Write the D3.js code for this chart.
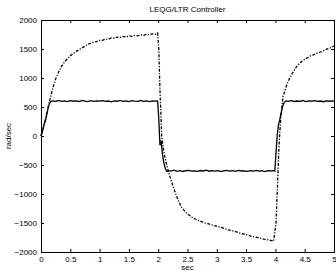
<!DOCTYPE html>
<html>
<head>
<meta charset="utf-8">
<script src="https://cdn.jsdelivr.net/npm/d3@7"></script>
<style>
  body { margin: 0; background: #fff; }
  svg { display: block; }
  text { font-family: "Liberation Sans", Arial, sans-serif; fill: #000; }
</style>
</head>
<body>
<svg width="336" height="272"></svg>
<script>
// rate response of the LEQG/LTR loop
var title = "LEQG/LTR Controller";
var xTicks = [0, 0.5, 1, 1.5, 2, 2.5, 3, 3.5, 4, 4.5, 5];
var yTicks = [-2000, -1500, -1000, -500, 0, 500, 1000, 1500, 2000];

// solid trace (time, rad/sec)
var solidT = [0, 0.02, 0.05, 0.08, 0.1, 0.13, 0.16, 0.2, 0.25, 0.3, 0.35, 0.4, 0.45, 0.5, 0.55, 0.6, 0.65, 0.7, 0.75, 0.8, 0.85, 0.9, 0.95, 1.0,
  1.05, 1.1, 1.15, 1.2, 1.25, 1.3, 1.35, 1.4, 1.45, 1.5, 1.55, 1.6, 1.65, 1.7, 1.75, 1.8, 1.85, 1.9, 1.95, 1.99,
  2.01, 2.03, 2.05, 2.07, 2.09, 2.12, 2.15, 2.18, 2.22, 2.27, 2.32, 2.37, 2.42, 2.47, 2.52, 2.57, 2.62, 2.67, 2.72, 2.77, 2.82, 2.87, 2.92, 2.97,
  3.02, 3.07, 3.12, 3.17, 3.22, 3.27, 3.32, 3.37, 3.42, 3.47, 3.52, 3.57, 3.62, 3.67, 3.72, 3.77, 3.82, 3.87, 3.92, 3.97, 3.99,
  4.01, 4.03, 4.05, 4.07, 4.09, 4.12, 4.15, 4.18, 4.22, 4.27, 4.32, 4.37, 4.42, 4.47, 4.52, 4.57, 4.62, 4.67, 4.72, 4.77, 4.82, 4.87, 4.92, 4.97, 5.0];
var solidV = [0, 60, 190, 280, 380, 520, 590, 606, 598, 612, 596, 604, 592, 610, 599, 607, 595, 613, 601, 594, 608, 597, 605, 600,
  611, 596, 603, 590, 606, 599, 614, 597, 604, 593, 609, 600, 596, 612, 598, 605, 594, 607, 601, 603,
  300, -160, -80, -300, -430, -560, -615, -596, -604, -590, -608, -597, -612, -599, -593, -606, -601, -611, -595, -603, -590, -607, -598, -605,
  -596, -612, -600, -594, -606, -598, -609, -592, -603, -600, -611, -596, -604, -593, -607, -599, -613, -597, -602, -598, -604,
  -300, 0, 180, 260, 360, 500, 580, 606, 597, 610, 595, 603, 598, 612, 594, 605, 600, 609, 596, 603, 591, 607, 599, 604, 601];

// dash-dot trace (time, rad/sec)
var dashT = [0, 0.05, 0.1, 0.15, 0.2, 0.25, 0.3, 0.35, 0.4, 0.45, 0.5, 0.55, 0.6, 0.65, 0.7, 0.75, 0.8, 0.85, 0.9, 0.95, 1.0,
  1.05, 1.1, 1.15, 1.2, 1.25, 1.3, 1.35, 1.4, 1.45, 1.5, 1.55, 1.6, 1.65, 1.7, 1.75, 1.8, 1.85, 1.9, 1.95, 1.99,
  2.01, 2.03, 2.06, 2.1, 2.15, 2.2, 2.25, 2.3, 2.35, 2.4, 2.45, 2.5, 2.55, 2.6, 2.65, 2.7, 2.75, 2.8, 2.85, 2.9, 2.95, 3.0,
  3.1, 3.2, 3.3, 3.4, 3.5, 3.6, 3.7, 3.8, 3.9, 3.97,
  4.01, 4.03, 4.06, 4.09, 4.13, 4.2, 4.25, 4.3, 4.35, 4.4, 4.45, 4.5, 4.55, 4.6, 4.65, 4.7, 4.75, 4.8, 4.85, 4.9, 4.95, 5.0];
var dashV = [0, 180, 400, 620, 820, 985, 1100, 1200, 1275, 1330, 1385, 1420, 1460, 1490, 1520, 1548, 1582, 1596, 1622, 1628, 1648,
  1651, 1672, 1668, 1690, 1684, 1705, 1698, 1716, 1708, 1726, 1719, 1735, 1728, 1745, 1737, 1752, 1746, 1762, 1755, 1775,
  1500, 800, 0, -300, -520, -700, -860, -1000, -1130, -1230, -1290, -1345, -1380, -1418, -1440, -1462, -1480, -1500, -1512, -1530, -1542, -1556,
  -1585, -1618, -1642, -1675, -1700, -1732, -1750, -1778, -1795, -1812,
  -1500, -1000, -200, 300, 680, 900, 1010, 1100, 1180, 1240, 1285, 1322, 1350, 1382, 1400, 1425, 1440, 1460, 1485, 1505, 1525, 1552];

var margin = {top: 20, right: 2, bottom: 20, left: 41};
var width = 336 - margin.left - margin.right;
var height = 272 - margin.top - margin.bottom;

var svg = d3.select("svg");
var g = svg.append("g").attr("transform", "translate(" + margin.left + "," + margin.top + ")");

var x = d3.scaleLinear().domain([0, 5]).range([0, width]);
var y = d3.scaleLinear().domain([-2000, 2000]).range([height, 0]);

var fmt = function (d) { return d < 0 ? "\u2212" + Math.abs(d) : String(d); };

// axes with inward ticks on all four sides
g.append("g").attr("transform", "translate(0," + height + ")")
  .call(d3.axisBottom(x).tickValues(xTicks).tickSize(-3).tickPadding(4).tickFormat(fmt));
g.append("g").attr("transform", "translate(0,0)")
  .call(d3.axisTop(x).tickValues(xTicks).tickSize(-3).tickFormat(""));
g.append("g")
  .call(d3.axisLeft(y).tickValues(yTicks).tickSize(-3).tickPadding(4).tickFormat(fmt));
g.append("g").attr("transform", "translate(" + width + ",0)")
  .call(d3.axisRight(y).tickValues(yTicks).tickSize(-3).tickFormat(""));

g.selectAll(".domain").attr("stroke", "#000").attr("stroke-width", 1);
g.selectAll(".tick line").attr("stroke", "#000");
g.selectAll(".tick text").attr("font-size", 8).attr("fill", "#000");

var line = d3.line().x(function (d) { return x(d[0]); }).y(function (d) { return y(d[1]); });

g.append("path")
  .datum(dashT.map(function (t, i) { return [t, dashV[i]]; }))
  .attr("fill", "none").attr("stroke", "#000").attr("stroke-width", 1.3)
  .attr("stroke-dasharray", "3,1.5,1.2,1.5")
  .attr("d", line);

g.append("path")
  .datum(solidT.map(function (t, i) { return [t, solidV[i]]; }))
  .attr("fill", "none").attr("stroke", "#000").attr("stroke-width", 1.3)
  .attr("d", line);

svg.append("text").attr("x", margin.left + width / 2).attr("y", 12)
  .attr("text-anchor", "middle").attr("font-size", 8).text(title);
svg.append("text").attr("x", margin.left + width / 2).attr("y", 270)
  .attr("text-anchor", "middle").attr("font-size", 8).text("sec");
svg.append("text").attr("transform", "translate(11," + (margin.top + height / 2) + ") rotate(-90)")
  .attr("text-anchor", "middle").attr("font-size", 8).text("rad/sec");
</script>
</body>
</html>
